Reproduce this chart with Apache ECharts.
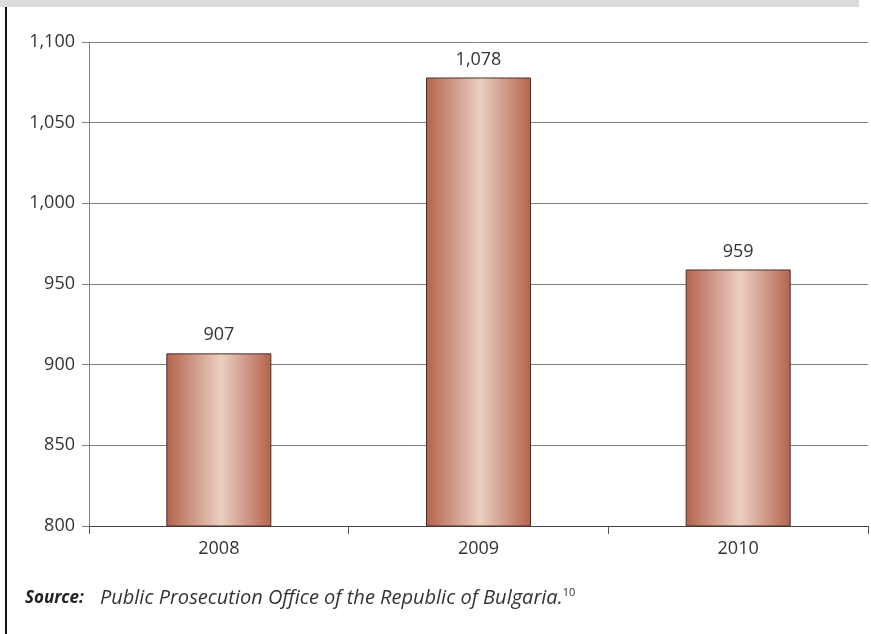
<!DOCTYPE html>
<html>
<head>
<meta charset="utf-8">
<style>
  html, body { margin: 0; padding: 0; background: #fff; }
  #chart { width: 871px; height: 634px; }
</style>
<script src="https://cdn.jsdelivr.net/npm/echarts@6/dist/echarts.min.js"></script>
</head>
<body>
<div id="chart"></div>
<script>
// data
const years = ['2008', '2009', '2010']
const cases = [907, 1078, 959]
const yTicks = [800, 850, 900, 950, 1000, 1050, 1100]

const font = '"Open Sans", "Noto Sans", sans-serif'

const chart = echarts.init(document.getElementById('chart'), null, { renderer: 'canvas' })

// copper bar fill, dark at the edges and light in the middle
const barFill = new echarts.graphic.LinearGradient(0, 0, 1, 0, [
  { offset: 0, color: '#b4634b' },
  { offset: 0.52, color: '#ebcfc2' },
  { offset: 1, color: '#b4634b' }
])

const fmt = v => v.toLocaleString('en-US')

chart.setOption({
  animation: false,
  grid: { left: 89, right: 3, top: 42, bottom: 108, containLabel: false },
  xAxis: {
    type: 'category',
    data: years,
    axisLine: { lineStyle: { color: '#444', width: 1 } },
    axisTick: { show: true, length: 8, lineStyle: { color: '#555' } },
    axisLabel: { color: '#333', fontSize: 18, fontFamily: font, margin: 14 }
  },
  yAxis: {
    type: 'value',
    min: yTicks[0],
    max: yTicks[yTicks.length - 1],
    interval: 50,
    axisLine: { show: true, lineStyle: { color: '#808080', width: 1 } },
    axisTick: { show: true, length: 7, lineStyle: { color: '#808080' } },
    axisLabel: { color: '#333', fontSize: 18, fontFamily: font, margin: 14, formatter: fmt },
    splitLine: { lineStyle: { color: '#808080', width: 1 } }
  },
  series: [{
    type: 'bar',
    data: cases,
    barWidth: 105,
    itemStyle: { color: barFill, borderColor: '#4a3028', borderWidth: 1 },
    label: {
      show: true,
      position: 'top',
      distance: 9,
      color: '#333',
      fontSize: 18,
      fontFamily: font,
      formatter: p => fmt(p.value)
    }
  }],
  graphic: [
    { type: 'rect', shape: { x: 0, y: 0, width: 859, height: 7 }, style: { fill: '#dcdcdc' }, silent: true },
    { type: 'rect', shape: { x: 5, y: 7, width: 2, height: 627 }, style: { fill: '#111' }, silent: true },
    {
      type: 'text',
      left: 25,
      top: 587,
      style: {
        text: '{b|Source:}{i|Public Prosecution Office of the Republic of Bulgaria.}{s|10}',
        rich: {
          b: { fontFamily: font, fontSize: 17, fontWeight: 'bold', fontStyle: 'italic', fill: '#222' },
          i: { fontFamily: font, fontSize: 20, fontStyle: 'italic', fill: '#333', padding: [0, 0, 0, 16] },
          s: { fontFamily: font, fontSize: 11, fill: '#333', verticalAlign: 'top', padding: [0, 0, 11, 0] }
        }
      }
    }
  ]
})

window.addEventListener('resize', () => chart.resize())
</script>
</body>
</html>
